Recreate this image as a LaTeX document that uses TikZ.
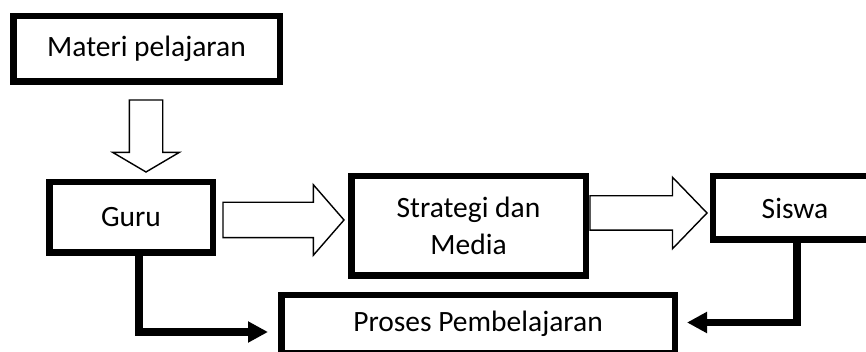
\documentclass[tikz,border=0pt]{standalone}
\usepackage{fontspec}
\setmainfont{Carlito}
\usetikzlibrary{shapes.arrows, arrows.meta}

\tikzset{
  box/.style={draw, line width=6.5pt, fill=white, align=center, inner sep=0pt,
    font=\fontsize{29.5}{37}\selectfont},
  hollow/.style={single arrow, draw, line width=1.4pt, fill=white, inner xsep=0pt,
    outer sep=0pt, anchor=tail},
  flow/.style={line width=7.5pt, -{Triangle[length=20pt, width=20pt]}},
}

\begin{document}
\begin{tikzpicture}[x=1pt, y=-1pt]
  \useasboundingbox (0,0) rectangle (866,352);
  \clip (0,0) rectangle (866,352);

  % boxes
  \node[box, minimum width=266.5pt, minimum height=65.5pt] (materi) at (146.5,49) {Materi pelajaran};
  \node[box, minimum width=163.5pt, minimum height=70.5pt] (guru) at (131,217.5) {Guru};
  \node[box, minimum width=234.5pt, minimum height=99.5pt] (strategi) at (468.5,226) {Strategi dan\\Media};
  \node[box, minimum width=164pt, minimum height=63.5pt] (siswa) at (795,208) {Siswa};
  \node[box, minimum width=393.5pt, minimum height=57.75pt] (proses) at (478,324) {Proses Pembelajaran};

  % hollow arrows
  \node[hollow, rotate=-90, minimum height=72pt, inner ysep=16pt,
    single arrow head extend=16.5pt, single arrow tip angle=119] (down) at (146,100) {};
  \node[hollow, minimum height=121pt, inner ysep=17pt,
    single arrow head extend=17.5pt, single arrow tip angle=98] (right1) at (223,220) {};
  \node[hollow, minimum height=117pt, inner ysep=16.5pt,
    single arrow head extend=18.5pt, single arrow tip angle=92] (right2) at (590,213) {};

  % flows to Proses Pembelajaran
  \draw[flow] ([xshift=8pt]guru.south) |- ([xshift=-10pt, yshift=-8pt]proses.west);
  \draw[flow] ([xshift=2pt]siswa.south) |- ([xshift=9pt, yshift=1.5pt]proses.east);
\end{tikzpicture}
\end{document}
